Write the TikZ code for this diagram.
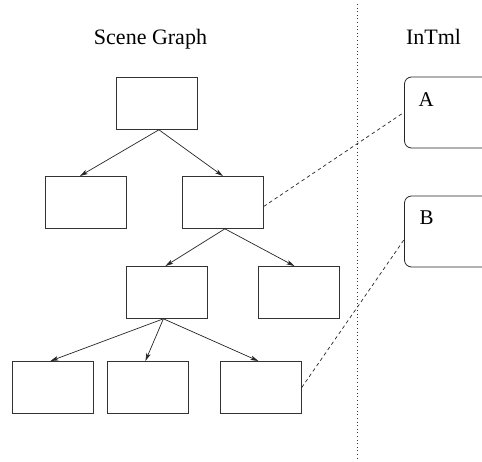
\documentclass[tikz,border=0pt]{standalone}
\usepackage{fontspec}
\setmainfont{Liberation Serif}
\usetikzlibrary{arrows.meta}
\begin{document}
\begin{tikzpicture}[x=1pt,y=-1pt,
  gbox/.style={draw=black!80,line width=0.8pt,minimum width=81pt,minimum height=52pt,inner sep=0pt,anchor=north west},
  rbox/.style={draw=black!85,line width=0.8pt,rounded corners=7pt},
  edge/.style={draw=black!85,line width=0.7pt,-{Stealth[length=8pt,width=4.5pt,inset=2pt]}},
  link/.style={draw=black!85,line width=0.7pt,dash pattern=on 3.5pt off 3pt},
  title/.style={font=\fontsize{22}{24}\selectfont,inner sep=0pt,anchor=base},
  letter/.style={font=\fontsize{21}{24}\selectfont,inner sep=0pt,anchor=base west}]
\useasboundingbox (0,0) rectangle (482,461);
% divider
\draw[black!80,line width=0.8pt,dash pattern=on 1pt off 2.6pt] (357,4) -- (357,461);
% titles
\node[title] (tsg) at (150.5,44) {Scene Graph};
\node[title] (tin) at (433.5,44) {InTml};
% scene graph boxes
\node[gbox] (r) at (116,77) {};
\node[gbox] (l1) at (45,176) {};
\node[gbox] (l2) at (182,176) {};
\node[gbox] (m1) at (126,266) {};
\node[gbox] (m2) at (258,266) {};
\node[gbox] (b1) at (12,361) {};
\node[gbox] (b2) at (107,361) {};
\node[gbox] (b3) at (220,361) {};
% arrows
\draw[edge] ([xshift=2pt]r.south) -- ([xshift=-6pt]l1.north);
\draw[edge] ([xshift=2pt]r.south) -- ([xshift=0pt]l2.north);
\draw[edge] ([xshift=2pt]l2.south) -- ([xshift=-1.5pt]m1.north);
\draw[edge] ([xshift=2pt]l2.south) -- ([xshift=-4.5pt]m2.north);
\draw[edge] ([xshift=-3.5pt]m1.south) -- ([xshift=-2.5pt]b1.north);
\draw[edge] ([xshift=-3.5pt]m1.south) -- ([xshift=-2.5pt]b2.north);
\draw[edge] ([xshift=-3.5pt]m1.south) -- ([xshift=-2.5pt]b3.north);
% InTml boxes
\draw[rbox] (490,77) -- (404.5,77) -- (404.5,148) -- (490,148);
\draw[rbox] (490,196) -- (404.5,196) -- (404.5,267) -- (490,267);
\coordinate (pa) at (404.5,112);
\coordinate (pb) at (404.5,239);
\node[letter] (ta) at (418.5,106) {A};
\node[letter] (tb) at (419.5,224) {B};
% links
\draw[link] ([yshift=-4pt]l2.east) -- (pa);
\draw[link] ([yshift=0pt]b3.east) -- (pb);
\end{tikzpicture}
\end{document}
